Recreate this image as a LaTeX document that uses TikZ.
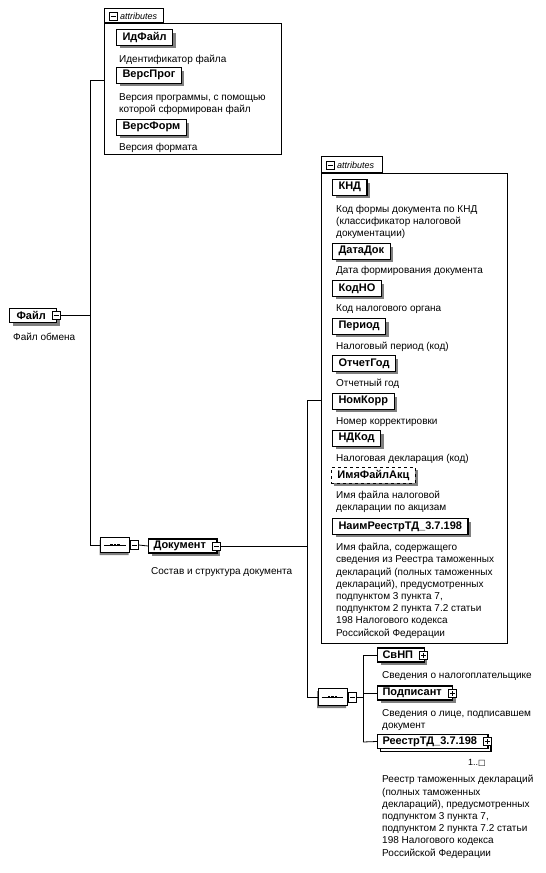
\documentclass[tikz,border=0pt]{standalone}
\usepackage{fontspec}
\setmainfont{Liberation Sans}
\newfontfamily\symfont{DejaVu Sans}
\usetikzlibrary{shapes.misc,shadows}
\tikzset{
  shad/.style={drop shadow={shadow xshift=3pt,shadow yshift=-3pt,fill=black!50,opacity=1}},
  elem/.style={draw,line width=1.1pt,fill=white,shad,font=\fontsize{11}{13}\selectfont\bfseries,
    inner xsep=5pt,inner ysep=0pt,minimum height=14pt,anchor=west},
  attrbox/.style={draw,line width=1.1pt,fill=white,shad,font=\fontsize{11}{13}\selectfont\bfseries,
    inner xsep=6pt,inner ysep=0pt,minimum height=15.5pt,anchor=north west},
  desc/.style={font=\fontsize{10}{12.2}\selectfont,align=left,inner sep=0pt,anchor=base west},
  iconbox/.style={draw,line width=0.6pt,fill=white,minimum size=8pt,inner sep=0pt},
  minusicon/.style={iconbox,path picture={\draw[line width=0.6pt]
      ([xshift=1.5pt]path picture bounding box.west) -- ([xshift=-1.5pt]path picture bounding box.east);}},
  plusicon/.style={iconbox,path picture={\draw[line width=0.6pt]
      ([xshift=1.5pt]path picture bounding box.west) -- ([xshift=-1.5pt]path picture bounding box.east)
      ([yshift=1.5pt]path picture bounding box.south) -- ([yshift=-1.5pt]path picture bounding box.north);}},
  abox/.style={draw,line width=0.8pt,fill=white,anchor=north west,inner sep=0pt},
  atab/.style={draw,line width=0.8pt,fill=white,anchor=south west,inner sep=0pt,minimum height=14pt},
  atext/.style={font=\fontsize{9}{10}\selectfont\itshape,inner sep=0pt,anchor=west},
  seq/.style={chamfered rectangle,chamfered rectangle xsep=6pt,chamfered rectangle ysep=4pt,
    draw,line width=0.9pt,fill=white,minimum width=29pt,minimum height=15pt,inner sep=0pt,
    drop shadow={shadow xshift=-1pt,shadow yshift=-2.5pt,fill=black!50,opacity=1}},
  conn/.style={line width=0.8pt},
}
\newcommand{\seqdots}[1]{%
  \draw[line width=0.7pt] ([xshift=4pt]#1.west) -- ([xshift=-4pt]#1.east);
  \foreach \d in {-3.5,0,3.5}{\fill ([xshift=\d pt]#1.center) +(-1.3pt,-1pt) rectangle +(1.3pt,1pt);}
}
\begin{document}
\begin{tikzpicture}[x=1pt,y=-1pt]
\useasboundingbox (0,0) rectangle (546,873);
\fill[white] (0,0) rectangle (546,873);

% ---------- first attributes box
\node[abox,minimum width=177pt,minimum height=131pt] (attr1) at (104,23) {};
\node[atab,minimum width=59pt] (tab1) at (attr1.north west) {};
\node[minusicon] (tab1m) at (113,16) {};
\node[atext] at (120,16) {attributes};

\node[attrbox] (idf) at (116,29) {ИдФайл};
\node[desc] (idfd) at (119,62) {Идентификатор файла};
\node[attrbox] (vprog) at (116,67) {ВерсПрог};
\node[desc] (vprogd) at (119,112.7) {Версия программы, с помощью\\которой сформирован файл};
\node[attrbox] (vform) at (116,119) {ВерсФорм};
\node[desc] (vformd) at (119,150) {Версия формата};

% ---------- root
\node[elem,minimum width=47pt,text width=33pt] (file) at (9,315.5) {Файл};
\node[minusicon] (filem) at ([xshift=-1pt]file.east) {};
\node[desc] (filed) at (13,340) {Файл обмена};

\coordinate (j1t) at (90,80);
\coordinate (j1m) at (90,315.5);
\coordinate (j1b) at (90,545);
\draw[conn] (j1t) -- (j1b);
\draw[conn] (filem.east) -- (j1m);
\draw[conn] (j1t) -- (j1t -| attr1.west);

% ---------- sequence 1 and Документ
\node[seq] (seq1) at (115,545) {};
\seqdots{seq1}
\node[minusicon,minimum height=9pt] (seq1m) at (134.5,545) {};
\draw[conn] (j1b) -- (seq1.west);
\node[elem] (doc) at (148,546) {Документ\kern6pt};
\node[minusicon] (docm) at ([xshift=-1pt]doc.east) {};
\draw[conn] (seq1m.east) -- (doc.west);
\node[desc] (docd) at (151,574) {Состав и структура документа};

\coordinate (j2t) at (307,400);
\coordinate (j2m) at (307,546);
\coordinate (j2b) at (307,697);
\draw[conn] (j2t) -- (j2b);
\draw[conn] (docm.east) -- (j2m);

% ---------- second attributes box
\node[abox,minimum width=186pt,minimum height=470pt] (attr2) at (321,173) {};
\node[atab,minimum width=61pt,minimum height=16pt] (tab2) at (attr2.north west) {};
\node[minusicon] (tab2m) at (330,165) {};
\node[atext] at (337,165) {attributes};
\draw[conn] (j2t) -- (j2t -| attr2.west);

\node[attrbox] (knd) at (332,179) {КНД};
\node[desc] (kndd) at (336,236.5) {Код формы документа по КНД\\(классификатор налоговой\\документации)};
\node[attrbox] (datadok) at (332,243) {ДатаДок};
\node[desc] (datadokd) at (336,273) {Дата формирования документа};
\node[attrbox] (kodno) at (332,280) {КодНО};
\node[desc] (kodnod) at (336,311) {Код налогового органа};
\node[attrbox] (period) at (332,318) {Период};
\node[desc] (periodd) at (336,349.5) {Налоговый период (код)};
\node[attrbox] (otchgod) at (332,355) {ОтчетГод};
\node[desc] (otchgodd) at (336,386.5) {Отчетный год};
\node[attrbox] (nomkorr) at (332,393) {НомКорр};
\node[desc] (nomkorrd) at (336,424) {Номер корректировки};
\node[attrbox] (ndkod) at (332,430) {НДКод};
\node[desc] (ndkodd) at (336,461) {Налоговая декларация (код)};
\node[attrbox,dashed,line width=0.9pt] (imyaf) at (331,467) {ИмяФайлАкц};
\node[desc] (imyafd) at (336,510.7) {Имя файла налоговой\\декларации по акцизам};
\node[attrbox] (naim) at (332,518) {НаимРеестрТД\_3.7.198};
\node[desc] (naimd) at (336,636) {Имя файла, содержащего\\сведения из Реестра таможенных\\деклараций (полных таможенных\\деклараций), предусмотренных\\подпунктом 3 пункта 7,\\подпунктом 2 пункта 7.2 статьи\\198 Налогового кодекса\\Российской Федерации};

% ---------- sequence 2
\node[seq,minimum height=17pt] (seq2) at (332.5,697) {};
\seqdots{seq2}
\node[minusicon,minimum height=10pt] (seq2m) at (352.5,697) {};
\draw[conn] (j2b) -- (seq2.west);

\coordinate (j3t) at (363,655);
\coordinate (j3m) at (363,697);
\coordinate (j3b) at (363,742);
\draw[conn] (j3t) -- (j3b);
\draw[conn] (seq2m.east) -- (j3m);

\node[elem] (svnp) at (377,655) {СвНП\kern6pt};
\node[plusicon] (svnpp) at ([xshift=-1pt]svnp.east) {};
\node[desc] (svnpd) at (382,678) {Сведения о налогоплательщике};
\draw[conn] (j3t) -- (svnp.west);

\node[elem] (podp) at (377,693) {Подписант\kern6pt};
\node[plusicon] (podpp) at ([xshift=-1pt]podp.east) {};
\node[desc] (podpd) at (382,728.2) {Сведения о лице, подписавшем\\документ};
\draw[conn] (j3m |- podp.west) -- (podp.west);

\node[elem,shad,copy shadow={shadow xshift=3pt,shadow yshift=-3pt}] (reestr) at (377,741.5) {РеестрТД\_3.7.198\kern6pt};
\node[plusicon] (reestrp) at ([xshift=-1pt]reestr.east) {};
\draw[conn] (j3b) -- (reestr.west);
\node[font=\fontsize{9}{10}\selectfont,inner sep=0pt,anchor=west] (mult) at (468,763) {1..{\symfont\fontsize{8}{9}\selectfont□}};
\node[desc] (reestrd) at (382,856) {Реестр таможенных деклараций\\(полных таможенных\\деклараций), предусмотренных\\подпунктом 3 пункта 7,\\подпунктом 2 пункта 7.2 статьи\\198 Налогового кодекса\\Российской Федерации};
\end{tikzpicture}
\end{document}
